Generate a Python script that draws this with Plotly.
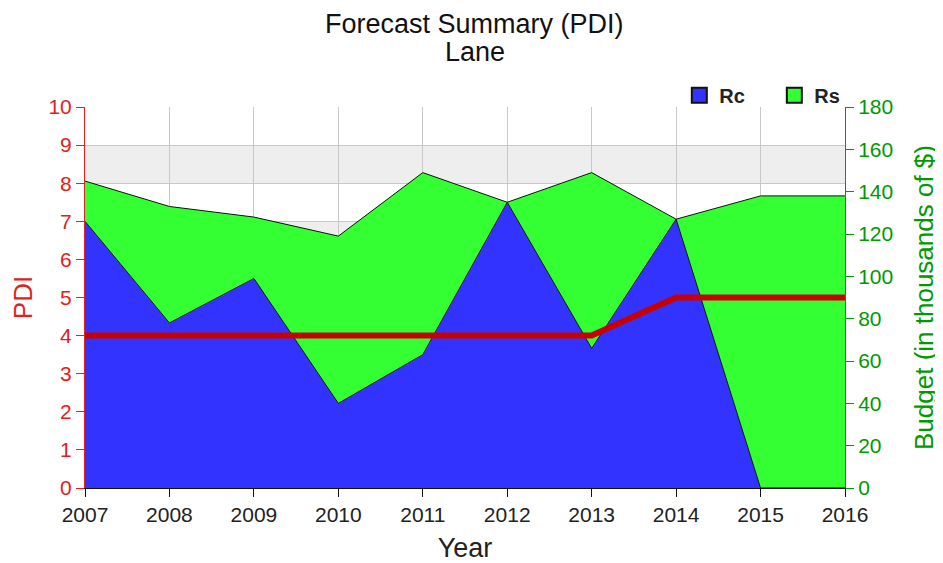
import plotly.graph_objects as go

years = [2007, 2008, 2009, 2010, 2011, 2012, 2013, 2014, 2015, 2016]
rc_budget = [126, 78, 99, 40, 63, 135, 66, 127, 0, 0]
rs_budget = [19, 55, 29, 79, 86, 0, 83, 0, 138, 138]
pdi = [4, 4, 4, 4, 4, 4, 4, 5, 5, 5]

pdi_ticks = list(range(0, 11))
budget_ticks = list(range(0, 181, 20))

FONT = "Liberation Sans, Arial, sans-serif"
RED = "#C80000"
GREEN = "#009900"
AXRED = "#DD2222"
BLUE_FILL = "#3333FF"
GREEN_FILL = "#33FF33"

fig = go.Figure()
fig.add_trace(go.Scatter(x=years, y=rc_budget, name="Rc", stackgroup="one",
                         mode="lines", line=dict(color="#111111", width=1),
                         fillcolor=BLUE_FILL, yaxis="y", showlegend=False))
fig.add_trace(go.Scatter(x=years, y=rs_budget, name="Rs", stackgroup="one",
                         mode="lines", line=dict(color="#111111", width=1),
                         fillcolor=GREEN_FILL, yaxis="y", showlegend=False))
fig.add_trace(go.Scatter(x=years, y=pdi, name="PDI", mode="lines",
                         line=dict(color=RED, width=6), yaxis="y2", showlegend=False))
# legend entries
for nm, col in [("<b>Rc</b>", BLUE_FILL), ("<b>Rs</b>", GREEN_FILL)]:
    fig.add_trace(go.Scatter(x=[None], y=[None], name=nm, mode="markers",
                             marker=dict(symbol="square", size=15, color=col,
                                         line=dict(color="#111111", width=2)),
                             yaxis="y", showlegend=True))

shapes = []
for lo in range(0, 10, 2):
    shapes.append(dict(type="rect", xref="x domain", yref="y2", x0=0, x1=1, y0=lo, y1=lo + 1,
                       fillcolor="#EEEEEE", line=dict(width=0), layer="below"))

annotations = [
    dict(text="Forecast Summary (PDI)", xref="paper", yref="paper", x=0.513, y=1.218,
         xanchor="center", yanchor="middle", showarrow=False,
         font=dict(size=27, color="#111111")),
    dict(text="Lane", xref="paper", yref="paper", x=0.513, y=1.144,
         xanchor="center", yanchor="middle", showarrow=False,
         font=dict(size=27, color="#111111")),
]

fig.update_layout(
    width=943, height=563,
    margin=dict(l=77, r=106, t=99, b=83),
    paper_bgcolor="white", plot_bgcolor="white",
    font=dict(family=FONT, size=21, color="#222222"),
    shapes=shapes,
    annotations=annotations,
    showlegend=True,
    legend=dict(orientation="h", x=0.782, y=1.031, xanchor="left", yanchor="middle",
                font=dict(size=20, color="#222222"), bgcolor="rgba(0,0,0,0)",
                entrywidth=50, traceorder="normal"),
    xaxis=dict(range=[2007, 2016], tickvals=years, ticktext=[str(y) for y in years],
               showgrid=True, gridcolor="#C8C8C8", gridwidth=1,
               showline=True, linecolor="#111111", linewidth=1,
               ticks="outside", ticklen=8, tickcolor="#111111",
               tickfont=dict(size=21, color="#222222"), automargin=False,
               title=dict(text="Year", font=dict(size=27, color="#222222"), standoff=12),
               zeroline=False),
    yaxis=dict(range=[0, 180], side="right", tickvals=budget_ticks,
               showgrid=False, zeroline=False, automargin=False,
               showline=True, linecolor=GREEN, linewidth=1,
               ticks="outside", ticklen=8, tickcolor=GREEN,
               tickfont=dict(size=21, color=GREEN),
               title=dict(text="Budget (in thousands of $)", font=dict(size=26, color=GREEN), standoff=22)),
    yaxis2=dict(range=[0, 10], side="left", overlaying="y", tickvals=pdi_ticks,
                showgrid=True, gridcolor="#C8C8C8", gridwidth=1, zeroline=False, automargin=False,
                showline=True, linecolor=AXRED, linewidth=1,
                ticks="outside", ticklen=8, tickcolor=AXRED,
                tickfont=dict(size=21, color=AXRED),
                title=dict(text="PDI", font=dict(size=26, color=AXRED), standoff=14)),
)

fig.write_html("out.html")
